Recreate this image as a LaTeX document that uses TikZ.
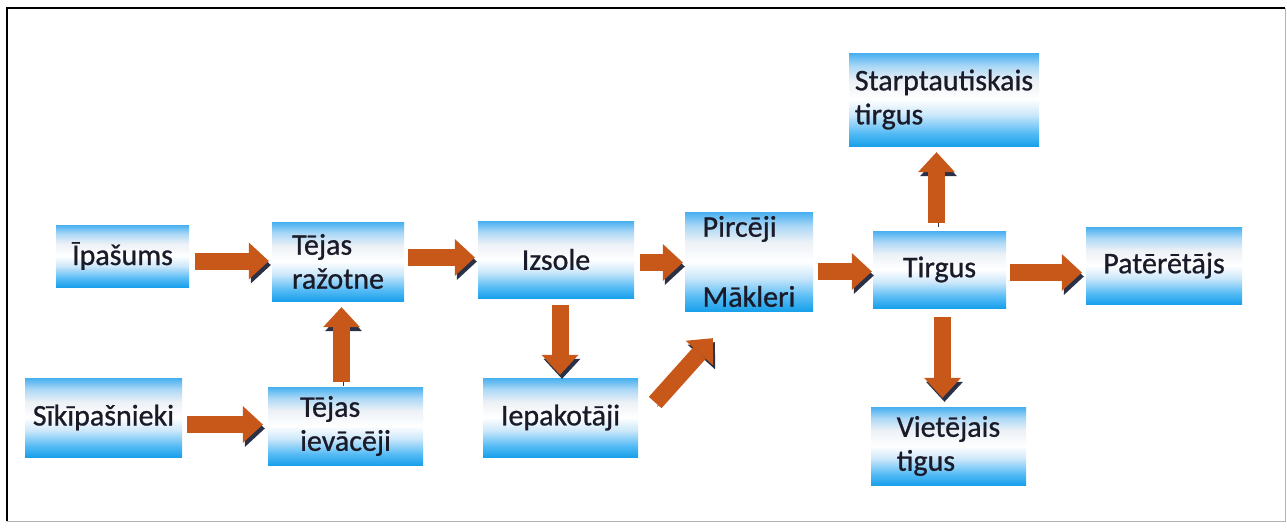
\documentclass[tikz,border=0pt]{standalone}
\usepackage{fontspec}
\setmainfont{Carlito}[FakeBold=0.8]
\usetikzlibrary{arrows.meta,positioning,calc}
\definecolor{arrowfill}{RGB}{200,88,26}
\definecolor{arrowshade}{RGB}{42,48,69}
\definecolor{boxtext}{RGB}{26,26,40}
\definecolor{blueA}{RGB}{25,160,235}
\definecolor{blueB}{RGB}{85,187,245}
\definecolor{blueC}{RGB}{205,232,250}
\definecolor{paleA}{RGB}{236,241,246}
\definecolor{blueD}{RGB}{170,215,246}
\definecolor{blueE}{RGB}{70,175,240}
\pgfdeclareverticalshading{boxshade}{100bp}{color(0bp)=(blueA); color(25bp)=(blueA); color(32bp)=(blueB); color(42bp)=(blueC); color(50bp)=(white); color(60bp)=(paleA); color(68bp)=(blueD); color(75bp)=(blueE); color(100bp)=(blueE)}
\tikzset{
  box/.style={shading=boxshade, inner sep=0pt, text=boxtext, font=\fontsize{30}{34}\selectfont, align=left},
  blockarrow/.style={draw=arrowfill, line width=17pt, -{Triangle[length=20pt,width=37pt,line width=0pt]},
    preaction={draw=arrowshade, transform canvas={shift={(2pt,-4pt)}}}}
}
\begin{document}
\begin{tikzpicture}[x=1pt,y=-1pt]
\useasboundingbox (0,0) rectangle (1287,528);
\fill[white] (0,0) rectangle (1287,528);
\draw[gray!60, line width=1pt] (1285,8) -- (1285,521) -- (7,521);
\draw[line width=2.5pt] (7,521) -- (7,8) -- (1285,8);

\node (ipasums) [box, minimum width=133pt, minimum height=62pt] at (122.5,256) {Īpašums};
\node (razotne) [box, minimum width=132pt, minimum height=79pt] at (338,261.5) {Tējas\\ražotne};
\node (sikip) [box, minimum width=157pt, minimum height=79pt] at (103.5,417.5) {Sīkīpašnieki};
\node (ievaceji) [box, minimum width=155pt, minimum height=78pt] at (345.5,426) {Tējas\\ievācēji};
\node (izsole) [box, minimum width=156pt, minimum height=77pt] at (556,259.5) {Izsole};
\node (iepakotaji) [box, minimum width=155pt, minimum height=79pt] at (560.5,417.5) {Iepakotāji};
\node (pirceji) [box, minimum width=128pt, minimum height=99pt] at (749,261.5) {Pircēji\\[36pt]Mākleri};
\node (tirgus) [box, minimum width=133pt, minimum height=77pt] at (939.5,269.5) {Tirgus};
\node (starpt) [box, minimum width=190pt, minimum height=93pt] at (944,99.5) {Starptautiskais\\tirgus};
\node (pateretajs) [box, minimum width=156pt, minimum height=77pt] at (1164,265.5) {Patērētājs};
\node (vietejais) [box, minimum width=155pt, minimum height=78pt] at (948.5,446) {Vietējais\\tigus};

\draw[blockarrow] ($(ipasums.east)+(6,5)$) -- ($(ipasums.east -| razotne.west)+(-3,5)$);
\draw[blockarrow] ($(sikip.east)+(5,7)$) -- ($(sikip.east -| ievaceji.west)+(-5,7)$);
\draw[blockarrow] ($(ievaceji.north)+(-4,-5)$) -- ($(ievaceji.north |- razotne.south)+(-4,6)$);
\draw[blockarrow] ($(razotne.east)+(4,-4)$) -- ($(razotne.east -| izsole.west)+(-3,-4)$);
\draw[blockarrow] ($(izsole.south)+(4,7)$) -- ($(izsole.south |- iepakotaji.north)+(4,-3)$);
\draw[blockarrow] ($(izsole.east)+(6,3)$) -- ($(izsole.east -| pirceji.west)+(-2,3)$);
\draw[blockarrow] ($(iepakotaji.east)+(17,-15)$) -- ($(pirceji.south west)+(28,27)$);
\draw[blockarrow] ($(pirceji.east)+(5,10)$) -- ($(pirceji.east -| tirgus.west)+(-1,10)$);
\draw[blockarrow] ($(tirgus.north)+(-3,-8)$) -- ($(tirgus.north |- starpt.south)+(-3,6)$);
\draw[blockarrow] ($(tirgus.east)+(4,3)$) -- ($(tirgus.east -| pateretajs.west)+(-4,3)$);
\draw[blockarrow] ($(tirgus.south)+(3,9)$) -- ($(tirgus.south |- vietejais.north)+(3,-9)$);
\end{tikzpicture}
\end{document}
